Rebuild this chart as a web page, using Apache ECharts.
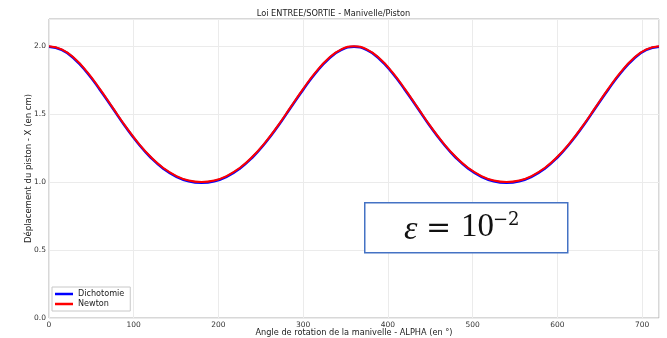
<!DOCTYPE html>
<html>
<head>
<meta charset="utf-8">
<script src="https://cdn.jsdelivr.net/npm/echarts@6/dist/echarts.min.js"></script>
<style>html,body{margin:0;padding:0;background:#fff}#c{width:667px;height:338px}</style>
</head>
<body>
<div id="c"></div>
<script>
// Angles (degrees)
const alpha = [0,15,30,45,60,75,90,105,120,135,150,165,180,195,210,225,240,255,270,285,300,315,330,345,360,
               375,390,405,420,435,450,465,480,495,510,525,540,555,570,585,600,615,630,645,660,675,690,705,720];
// Newton solution (cm)
const newton = [2.000,1.977,1.912,1.811,1.686,1.550,1.414,1.291,1.186,1.104,1.046,1.011,1.000,
                1.011,1.046,1.104,1.186,1.291,1.414,1.550,1.686,1.811,1.912,1.977,2.000,
                1.977,1.912,1.811,1.686,1.550,1.414,1.291,1.186,1.104,1.046,1.011,1.000,
                1.011,1.046,1.104,1.186,1.291,1.414,1.550,1.686,1.811,1.912,1.977,2.000];
// Dichotomy solution (cm)
const dichotomie = [1.995,1.972,1.906,1.805,1.680,1.545,1.409,1.286,1.181,1.099,1.041,1.006,0.995,
                    1.006,1.041,1.099,1.181,1.286,1.409,1.545,1.680,1.805,1.906,1.972,1.995,
                    1.972,1.906,1.805,1.680,1.545,1.409,1.286,1.181,1.099,1.041,1.006,0.995,
                    1.006,1.041,1.099,1.181,1.286,1.409,1.545,1.680,1.805,1.906,1.972,1.995];

const chart = echarts.init(document.getElementById('c'), null, {renderer:'canvas'});
const font = 'DejaVu Sans';
chart.setOption({
  animation:false,
  textStyle:{fontFamily:font},
  title:{text:'Loi ENTREE/SORTIE - Manivelle/Piston', left:'center', top:10, padding:0,
    textStyle:{fontSize:8.2, fontWeight:'normal', color:'#222', fontFamily:font}},
  grid:{left:49, right:8, top:19, bottom:20, outerBoundsMode:'none', containLabel:false,
    show:true, borderColor:'#b0b0b0', borderWidth:1},
  legend:{orient:'vertical', left:52, top:287, data:['Dichotomie','Newton'],
    icon:'rect', itemWidth:18, itemHeight:2.5, itemGap:2,
    borderColor:'#c8c8c8', borderWidth:1, padding:[3,6,3,3],
    textStyle:{fontSize:8.1, color:'#222', fontFamily:font}},
  xAxis:{type:'value', min:0, max:720, interval:100,
    name:'Angle de rotation de la manivelle - ALPHA (en °)', nameLocation:'middle', nameGap:11,
    nameMoveOverlap:false,
    nameTextStyle:{fontSize:8.2, color:'#222'},
    axisLine:{show:false}, axisTick:{show:false},
    axisLabel:{fontSize:7.5, color:'#333', margin:3, showMaxLabel:false},
    splitLine:{show:true, lineStyle:{color:'#ebebeb', width:1}}},
  yAxis:{type:'value', min:0, max:2.2, interval:0.5,
    name:'Déplacement du piston - X (en cm)', nameLocation:'middle', nameGap:16,
    nameMoveOverlap:false,
    nameTextStyle:{fontSize:8.5, color:'#222'},
    axisLine:{show:false}, axisTick:{show:false},
    axisLabel:{fontSize:7.5, color:'#333', margin:3, showMaxLabel:false, formatter:v=>v.toFixed(1)},
    splitLine:{show:true, lineStyle:{color:'#ebebeb', width:1}}},
  series:[
    {name:'Dichotomie', type:'line', smooth:true, showSymbol:false, z:2,
     color:'#0000ff', lineStyle:{width:2.5, color:'#0000ff'},
     data:alpha.map((a,i)=>[a,dichotomie[i]])},
    {name:'Newton', type:'line', smooth:true, showSymbol:false, z:3,
     color:'#ff0000', lineStyle:{width:2, color:'#ff0000'},
     data:alpha.map((a,i)=>[a,newton[i]])}
  ],
  graphic:[
    {type:'rect', left:364, top:202, shape:{width:203, height:50},
     style:{fill:'#fff', stroke:'#4472c4', lineWidth:1.5}, z:10},
    {type:'text', x:404, y:230, z:11,
     style:{text:'ε', font:'italic 34px "Liberation Serif"', fill:'#111', align:'left', verticalAlign:'middle'}},
    {type:'text', x:438.5, y:229, z:11,
     style:{text:'=', font:'30px "DejaVu Serif"', fill:'#111', align:'center', verticalAlign:'middle'}},
    {type:'text', x:461, y:227.5, z:11,
     style:{text:'10', font:'33px "Liberation Serif"', fill:'#111', align:'left', verticalAlign:'middle'}},
    {type:'text', x:493, y:220, z:11,
     style:{text:'−2', font:'18px "DejaVu Serif"', fill:'#111', align:'left', verticalAlign:'middle'}}
  ]
});
</script>
</body>
</html>
